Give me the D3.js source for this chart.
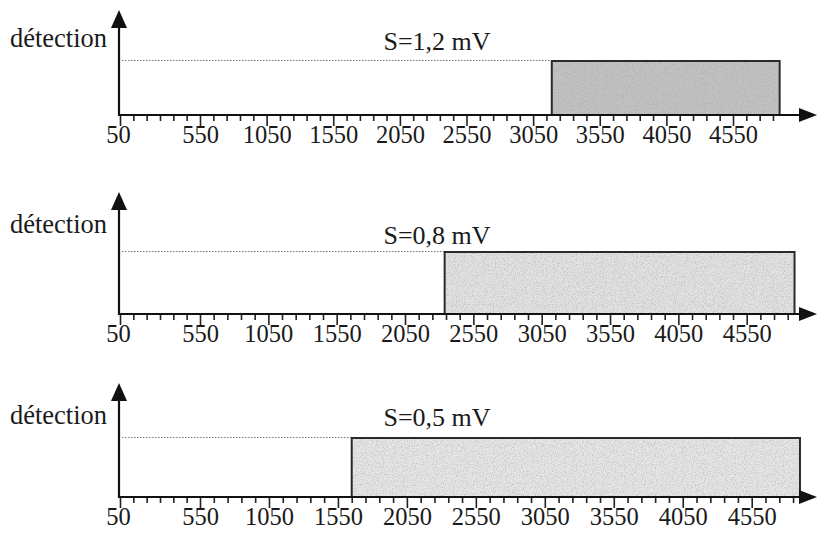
<!DOCTYPE html>
<html>
<head>
<meta charset="utf-8">
<script src="https://cdn.jsdelivr.net/npm/d3@7"></script>
<style>
  html, body { margin: 0; padding: 0; background: #fff; }
  svg { display: block; }
  text { font-family: "Liberation Serif", "Times New Roman", serif; fill: #1a1a1a; }
</style>
</head>
<body>
<svg id="chart" width="818" height="533"></svg>
<script>
// ---- data ----
const thresholds   = ["S=1,2 mV", "S=0,8 mV", "S=0,5 mV"];
const detectStart  = [3190, 2340, 1650];
const detectEnd    = [4900, 4900, 4900];
const detectLevel  = [1, 1, 1];
const tickLabels   = [50, 550, 1050, 1550, 2050, 2550, 3050, 3550, 4050, 4550];
const yAxisLabel   = "détection";

// ---- layout (pixels) ----
const layout = [
  { base: 115, level: 61,  tip: 10,  x4550: 733,   title: 50,  ylab: 47,  fill: "#c2c2c2", speck: 0.75 },
  { base: 314, level: 252, tip: 192, x4550: 746.7, title: 244, ylab: 233, fill: "#e2e2e2", speck: 0.6 },
  { base: 497, level: 438, tip: 383, x4550: 751.7, title: 426, ylab: 424, fill: "#e6e6e6", speck: 0.6 }
];
const originX = 120, arrowTipX = 817;

const svg = d3.select("#chart");
const defs = svg.append("defs");
const f = defs.append("filter").attr("id", "noise")
  .attr("x", 0).attr("y", 0).attr("width", 1).attr("height", 1);
f.append("feTurbulence").attr("type", "fractalNoise").attr("baseFrequency", 0.9)
  .attr("numOctaves", 2).attr("seed", 3).attr("result", "t");
f.append("feColorMatrix").attr("in", "t").attr("type", "matrix")
  .attr("values", "0 0 0 0 0.4  0 0 0 0 0.4  0 0 0 0 0.4  2.6 0 0 0 -1.15")
  .attr("result", "spk");
f.append("feComposite").attr("in", "spk").attr("in2", "SourceGraphic").attr("operator", "in");

thresholds.forEach((label, i) => {
  const L = layout[i];
  const x = d3.scaleLinear().domain([50, 550, 4550]).range([originX, 200, L.x4550]);
  const y = d3.scaleLinear().domain([0, 1]).range([L.base, L.level]);
  const g = svg.append("g");

  // dotted guide at detection level
  g.append("line")
    .attr("x1", originX + 2).attr("x2", x(detectStart[i]))
    .attr("y1", y(detectLevel[i]) - 0.5).attr("y2", y(detectLevel[i]) - 0.5)
    .attr("stroke", "#777").attr("stroke-width", 1).attr("stroke-dasharray", "1.5,1.5");

  // detection block
  const rx = x(detectStart[i]), rw = x(detectEnd[i]) - x(detectStart[i]);
  const ry = y(detectLevel[i]), rh = y(0) - y(detectLevel[i]);
  g.append("rect").attr("x", rx).attr("y", ry).attr("width", rw).attr("height", rh)
    .attr("fill", L.fill);
  g.append("rect").attr("x", rx).attr("y", ry).attr("width", rw).attr("height", rh)
    .attr("fill", "#000").attr("filter", "url(#noise)").attr("opacity", L.speck);
  g.append("rect").attr("x", rx).attr("y", ry).attr("width", rw).attr("height", rh)
    .attr("fill", "none").attr("stroke", "#2a2a2a").attr("stroke-width", 2);

  // minor ticks
  const minor = d3.range(1, 6).map(k => 50 + k * 500 / 6)
    .concat(d3.range(650, 4900, 100).filter(v => !tickLabels.includes(v)));
  const minorAxis = d3.axisBottom(x).tickValues(minor).tickSize(6).tickFormat("");
  const gm = g.append("g").attr("transform", `translate(0,${L.base})`).call(minorAxis);
  gm.select(".domain").remove();
  gm.selectAll("line").attr("stroke", "#222").attr("stroke-width", 1.6);

  // major ticks + labels
  const majorAxis = d3.axisBottom(x).tickValues(tickLabels).tickSize(11).tickFormat(d3.format("d"));
  const ga = g.append("g").attr("transform", `translate(0,${L.base})`).call(majorAxis);
  ga.select(".domain").remove();
  ga.selectAll("line").attr("stroke", "#222").attr("stroke-width", 1.6);
  ga.selectAll("text").attr("y", 28).attr("dy", 0)
    .style("font-family", '"Liberation Serif", "Times New Roman", serif')
    .style("font-size", "24.5px").attr("fill", "#1a1a1a")
    .attr("dx", d => d === 50 ? -2 : 0);

  // x axis line + arrow
  g.append("line").attr("x1", originX - 1).attr("x2", arrowTipX - 14)
    .attr("y1", L.base).attr("y2", L.base).attr("stroke", "#111").attr("stroke-width", 2.2);
  g.append("path")
    .attr("d", `M${arrowTipX},${L.base} L${arrowTipX - 18},${L.base - 7} L${arrowTipX - 18},${L.base + 7} Z`)
    .attr("fill", "#111");

  // y axis line + arrow
  g.append("line").attr("x1", originX - 1).attr("x2", originX - 1)
    .attr("y1", L.base + 1).attr("y2", L.tip + 14).attr("stroke", "#111").attr("stroke-width", 2.2);
  g.append("path")
    .attr("d", `M${originX - 1},${L.tip} L${originX - 9},${L.tip + 18} L${originX + 7},${L.tip + 18} Z`)
    .attr("fill", "#111");

  // labels
  g.append("text").attr("x", 107).attr("y", L.ylab).attr("text-anchor", "end")
    .style("font-size", "26.5px").text(yAxisLabel);
  g.append("text").attr("x", 437).attr("y", L.title).attr("text-anchor", "middle")
    .style("font-size", "26px").text(label);
});
</script>
</body>
</html>
